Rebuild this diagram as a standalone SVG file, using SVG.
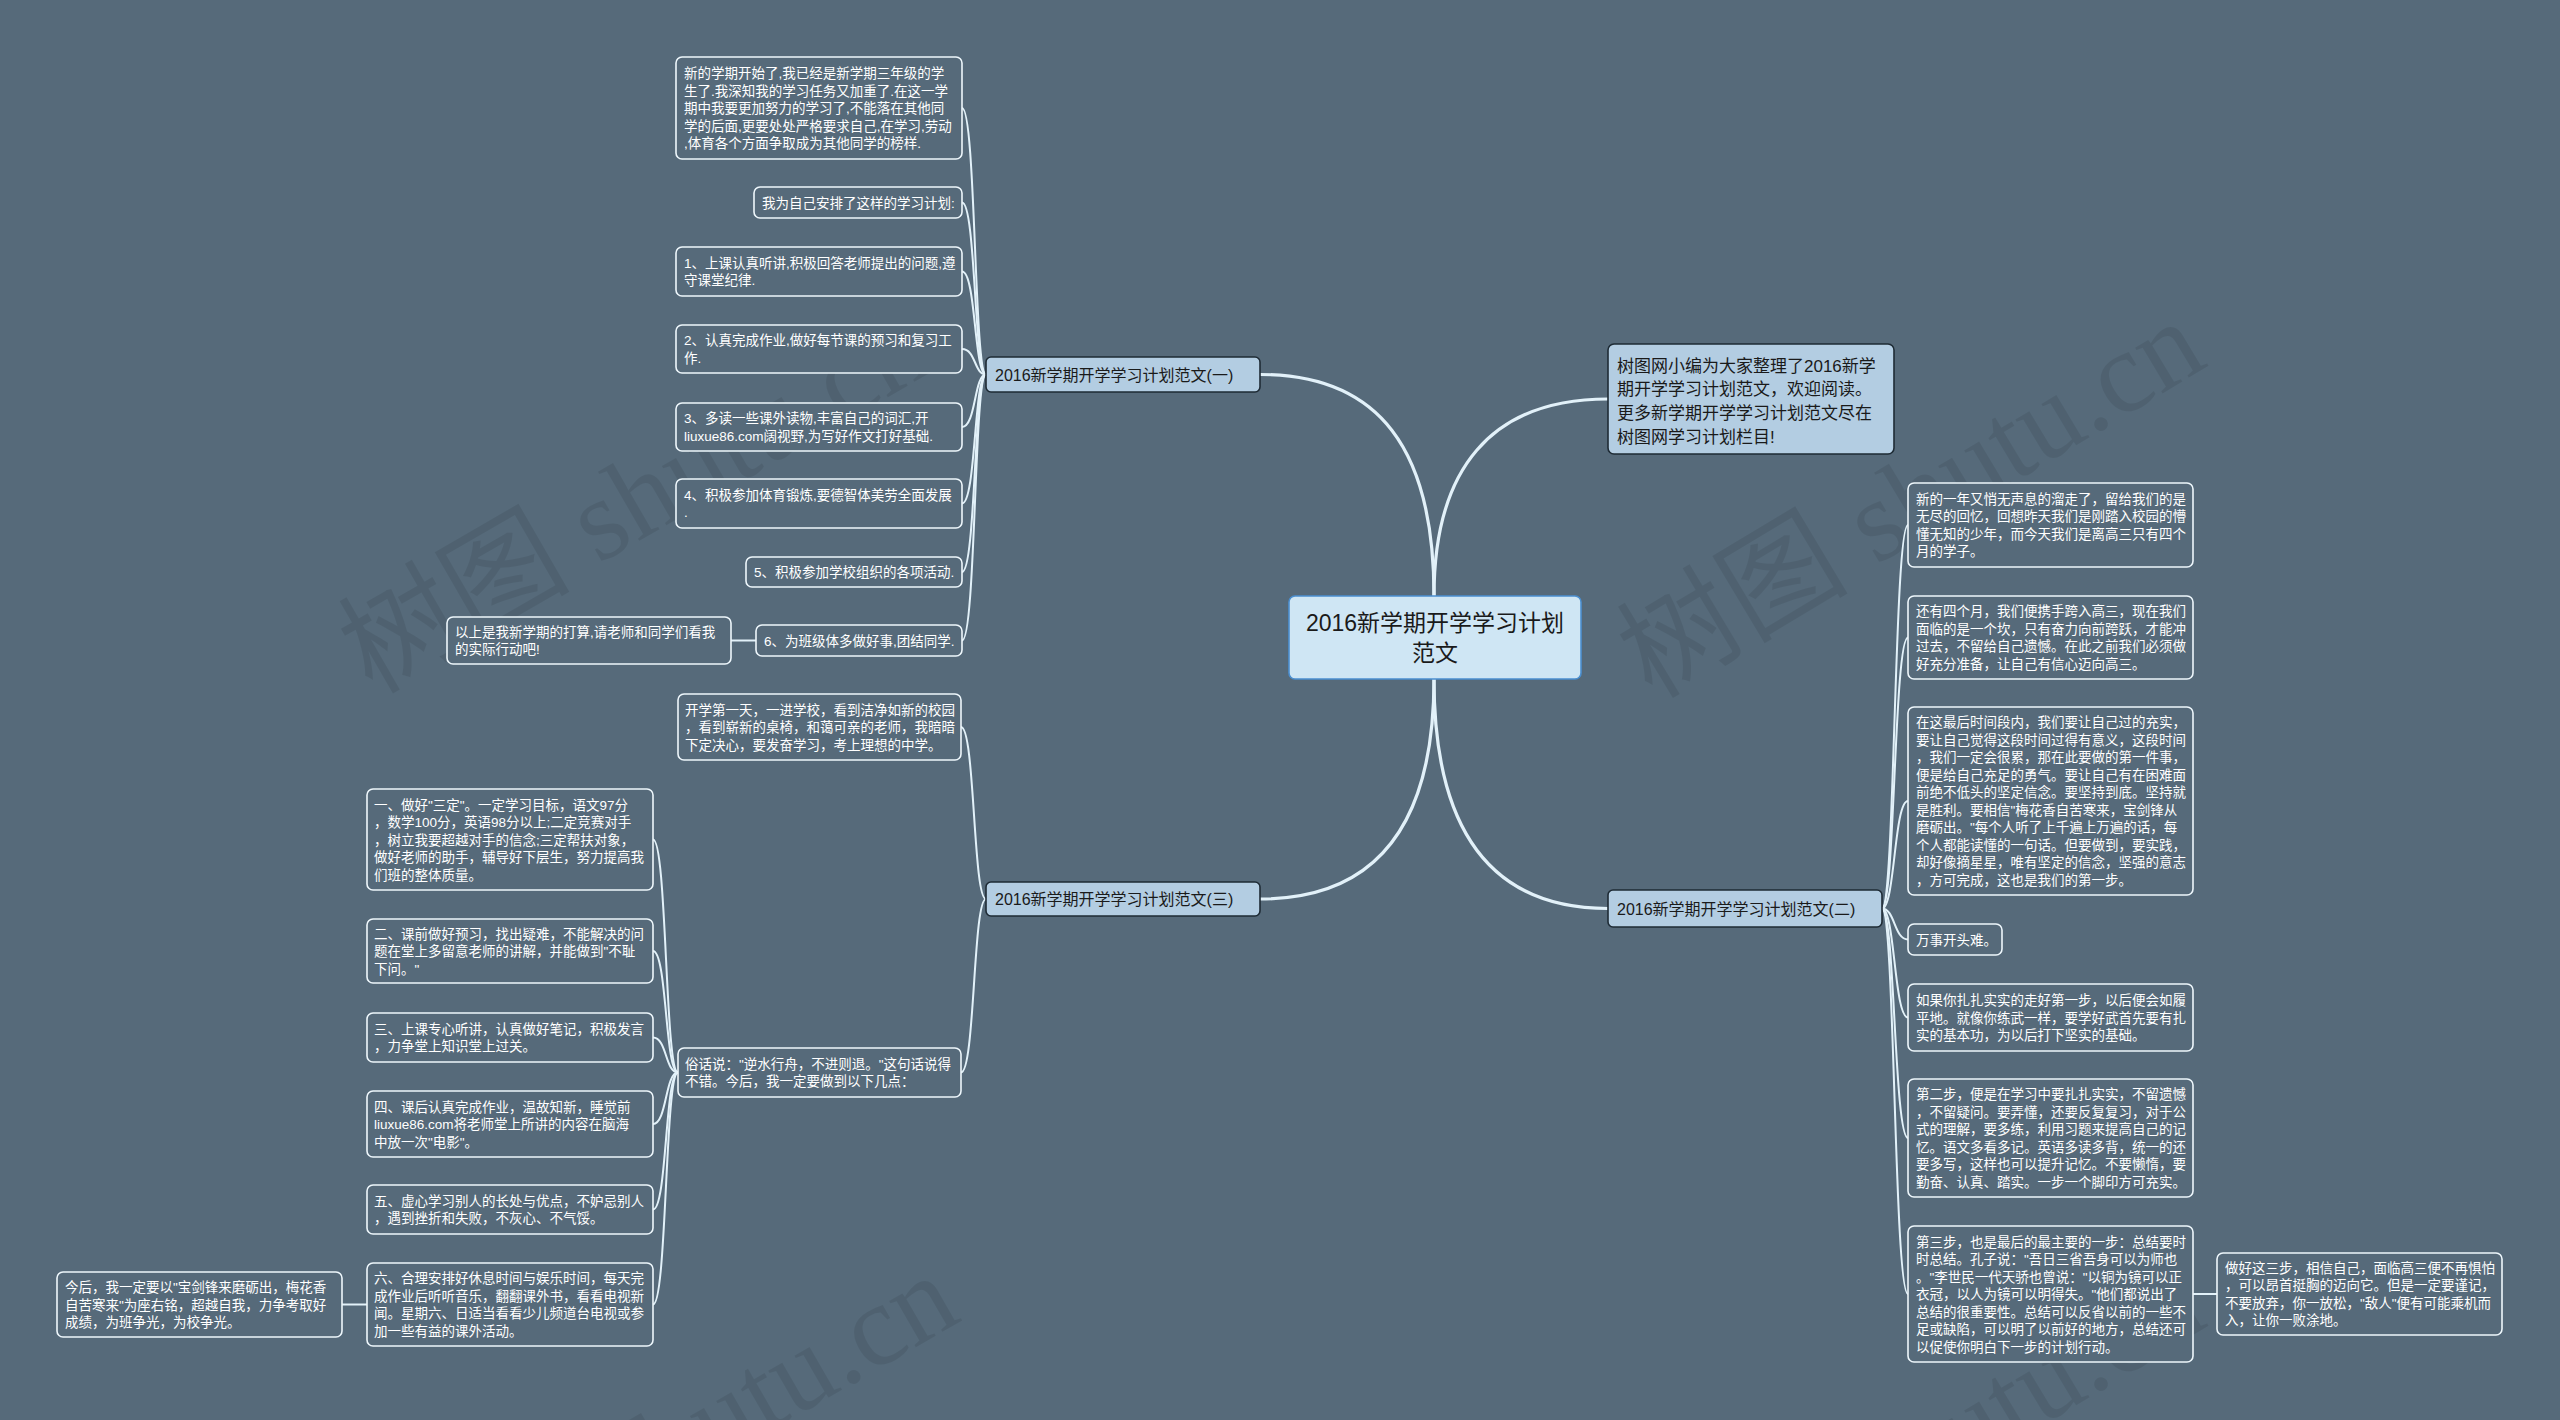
<svg xmlns="http://www.w3.org/2000/svg" width="2560" height="1420" viewBox="0 0 2560 1420">
<style>
.wm{font-family:"Liberation Serif","Noto Sans CJK SC",serif;font-size:116px;fill:#000;fill-opacity:0.08}
.sub rect{fill:#566a7a;stroke:#eef7fc;stroke-width:1.6}
.sub text{font-family:"Liberation Sans","Noto Sans CJK SC",sans-serif;font-size:13.5px;fill:#ffffff}
.l1 rect{fill:#b3cde2;stroke:#1e2b35;stroke-width:1.6}
.l1 text{font-family:"Liberation Sans","Noto Sans CJK SC",sans-serif;font-size:16px;fill:#1a1a1a}
.tr text{font-size:17px}
.root rect{fill:#cfe6f4;stroke:#4b8fd0;stroke-width:1.6}
.root text{font-family:"Liberation Sans","Noto Sans CJK SC",sans-serif;font-size:23px;fill:#1a1a1a;text-anchor:middle}
.cm{fill:none;stroke:#e2f1f9;stroke-width:3.2;stroke-linecap:round}
.cs{fill:none;stroke:#e2f1f9;stroke-width:2}
</style>
<rect x="0" y="0" width="2560" height="1420" fill="#566a7a"/>
<g id="watermarks">
<text class="wm" transform="translate(372,695) rotate(-30)">树图 shutu.cn</text>
<text class="wm" transform="translate(1652,700) rotate(-31)">树图 shutu.cn</text>
<text class="wm" transform="translate(400,1645) rotate(-30)">树图 shutu.cn</text>
<text class="wm" transform="translate(1652,1660) rotate(-31)">树图 shutu.cn</text>
</g>
<g id="connectors">
<path class="cm" d="M1434,596 C1434,450 1380,374.5 1260,374.5"/>
<path class="cm" d="M1434,596 C1434,470 1490,399 1608,399"/>
<path class="cm" d="M1434,679 C1434,820 1380,899 1260,899"/>
<path class="cm" d="M1434,679 C1434,830 1490,908.5 1608,908.5"/>
<path class="cs" d="M986,374.5 C974,374.5 976,108 962,108"/>
<path class="cs" d="M986,374.5 C974,374.5 976,202.5 962,202.5"/>
<path class="cs" d="M986,374.5 C974,374.5 976,271.5 962,271.5"/>
<path class="cs" d="M986,374.5 C974,374.5 976,349 962,349"/>
<path class="cs" d="M986,374.5 C974,374.5 976,427 962,427"/>
<path class="cs" d="M986,374.5 C974,374.5 976,503.5 962,503.5"/>
<path class="cs" d="M986,374.5 C974,374.5 976,572 962,572"/>
<path class="cs" d="M986,374.5 C974,374.5 976,640.5 962,640.5"/>
<path class="cs" d="M756,640.5 L731,640.5"/>
<path class="cs" d="M986,899 C973,899 975,727 961,727"/>
<path class="cs" d="M986,899 C973,899 975,1072.5 961,1072.5"/>
<path class="cs" d="M678,1072.5 C665,1072.5 667,839.5 653,839.5"/>
<path class="cs" d="M678,1072.5 C665,1072.5 667,951 653,951"/>
<path class="cs" d="M678,1072.5 C665,1072.5 667,1037.5 653,1037.5"/>
<path class="cs" d="M678,1072.5 C665,1072.5 667,1124 653,1124"/>
<path class="cs" d="M678,1072.5 C665,1072.5 667,1209.5 653,1209.5"/>
<path class="cs" d="M678,1072.5 C665,1072.5 667,1304.5 653,1304.5"/>
<path class="cs" d="M367,1304.5 L342,1304.5"/>
<path class="cs" d="M1882,908.5 C1895,908.5 1894,525 1908,525"/>
<path class="cs" d="M1882,908.5 C1895,908.5 1894,637.5 1908,637.5"/>
<path class="cs" d="M1882,908.5 C1895,908.5 1894,801 1908,801"/>
<path class="cs" d="M1882,908.5 C1895,908.5 1894,939.5 1908,939.5"/>
<path class="cs" d="M1882,908.5 C1895,908.5 1894,1017.5 1908,1017.5"/>
<path class="cs" d="M1882,908.5 C1895,908.5 1894,1138 1908,1138"/>
<path class="cs" d="M1882,908.5 C1895,908.5 1894,1294 1908,1294"/>
<path class="cs" d="M2193,1294 L2217,1294"/>
</g>
<g id="root" class="root">
<rect x="1289" y="596" width="292" height="83" rx="6"/>
<text><tspan x="1435" y="630.7">2016新学期开学学习计划</tspan><tspan x="1435" y="660.7">范文</tspan></text>
</g>
<g id="intro" class="l1 tr">
<rect x="1608" y="344" width="286" height="110" rx="6"/>
<text><tspan x="1617" y="371.5">树图网小编为大家整理了2016新学</tspan><tspan x="1617" y="395">期开学学习计划范文，欢迎阅读。</tspan><tspan x="1617" y="418.5">更多新学期开学学习计划范文尽在</tspan><tspan x="1617" y="442.5">树图网学习计划栏目!</tspan></text>
</g>
<g id="branch1" class="l1">
<rect x="986" y="357" width="274" height="35" rx="5"/>
<text x="995" y="380.5">2016新学期开学学习计划范文(一)</text>
</g>
<g id="branch3" class="l1">
<rect x="986" y="882" width="274" height="34" rx="5"/>
<text x="995" y="905">2016新学期开学学习计划范文(三)</text>
</g>
<g id="branch2" class="l1">
<rect x="1608" y="890" width="274" height="37" rx="5"/>
<text x="1617" y="914.5">2016新学期开学学习计划范文(二)</text>
</g>
<g id="a1" class="sub">
<rect x="676" y="57" width="286" height="102" rx="6"/>
<text><tspan x="684" y="78.2">新的学期开始了,我已经是新学期三年级的学</tspan><tspan x="684" y="95.7">生了.我深知我的学习任务又加重了.在这一学</tspan><tspan x="684" y="113.2">期中我要更加努力的学习了,不能落在其他同</tspan><tspan x="684" y="130.7">学的后面,更要处处严格要求自己,在学习,劳动</tspan><tspan x="684" y="148.2">,体育各个方面争取成为其他同学的榜样.</tspan></text>
</g>
<g id="a2" class="sub">
<rect x="754" y="187" width="208" height="31" rx="6"/>
<text x="762" y="207.7">我为自己安排了这样的学习计划:</text>
</g>
<g id="a3" class="sub">
<rect x="676" y="247" width="286" height="49" rx="6"/>
<text><tspan x="684" y="267.9">1、上课认真听讲,积极回答老师提出的问题,遵</tspan><tspan x="684" y="285.4">守课堂纪律.</tspan></text>
</g>
<g id="a4" class="sub">
<rect x="676" y="325" width="286" height="48" rx="6"/>
<text><tspan x="684" y="345.4">2、认真完成作业,做好每节课的预习和复习工</tspan><tspan x="684" y="362.9">作.</tspan></text>
</g>
<g id="a5" class="sub">
<rect x="676" y="403" width="286" height="48" rx="6"/>
<text><tspan x="684" y="423.4">3、多读一些课外读物,丰富自己的词汇,开</tspan><tspan x="684" y="440.9">liuxue86.com阔视野,为写好作文打好基础.</tspan></text>
</g>
<g id="a6" class="sub">
<rect x="676" y="479" width="286" height="49" rx="6"/>
<text><tspan x="684" y="499.9">4、积极参加体育锻炼,要德智体美劳全面发展</tspan><tspan x="684" y="517.4">.</tspan></text>
</g>
<g id="a7" class="sub">
<rect x="746" y="557" width="216" height="30" rx="6"/>
<text x="754" y="577.2">5、积极参加学校组织的各项活动.</text>
</g>
<g id="a8" class="sub">
<rect x="756" y="625" width="206" height="31" rx="6"/>
<text x="764" y="645.7">6、为班级体多做好事,团结同学.</text>
</g>
<g id="a9" class="sub">
<rect x="447" y="617" width="284" height="47" rx="6"/>
<text><tspan x="455" y="636.9">以上是我新学期的打算,请老师和同学们看我</tspan><tspan x="455" y="654.4">的实际行动吧!</tspan></text>
</g>
<g id="b1" class="sub">
<rect x="678" y="694" width="283" height="66" rx="6"/>
<text><tspan x="685" y="714.7">开学第一天，一进学校，看到洁净如新的校园</tspan><tspan x="685" y="732.2">，看到崭新的桌椅，和蔼可亲的老师，我暗暗</tspan><tspan x="685" y="749.7">下定决心，要发奋学习，考上理想的中学。</tspan></text>
</g>
<g id="b2" class="sub">
<rect x="678" y="1048" width="283" height="49" rx="6"/>
<text><tspan x="685" y="1068.9">俗话说："逆水行舟，不进则退。"这句话说得</tspan><tspan x="685" y="1086.4">不错。今后，我一定要做到以下几点：</tspan></text>
</g>
<g id="c1" class="sub">
<rect x="367" y="789" width="286" height="101" rx="6"/>
<text><tspan x="374" y="809.7">一、做好"三定"。一定学习目标，语文97分</tspan><tspan x="374" y="827.2">，数学100分，英语98分以上;二定竞赛对手</tspan><tspan x="374" y="844.7">，树立我要超越对手的信念;三定帮扶对象，</tspan><tspan x="374" y="862.2">做好老师的助手，辅导好下层生，努力提高我</tspan><tspan x="374" y="879.7">们班的整体质量。</tspan></text>
</g>
<g id="c2" class="sub">
<rect x="367" y="919" width="286" height="64" rx="6"/>
<text><tspan x="374" y="938.7">二、课前做好预习，找出疑难，不能解决的问</tspan><tspan x="374" y="956.2">题在堂上多留意老师的讲解，并能做到"不耻</tspan><tspan x="374" y="973.7">下问。"</tspan></text>
</g>
<g id="c3" class="sub">
<rect x="367" y="1013" width="286" height="49" rx="6"/>
<text><tspan x="374" y="1033.9">三、上课专心听讲，认真做好笔记，积极发言</tspan><tspan x="374" y="1051.4">，力争堂上知识堂上过关。</tspan></text>
</g>
<g id="c4" class="sub">
<rect x="367" y="1091" width="286" height="66" rx="6"/>
<text><tspan x="374" y="1111.7">四、课后认真完成作业，温故知新，睡觉前</tspan><tspan x="374" y="1129.2">liuxue86.com将老师堂上所讲的内容在脑海</tspan><tspan x="374" y="1146.7">中放一次"电影"。</tspan></text>
</g>
<g id="c5" class="sub">
<rect x="367" y="1185" width="286" height="49" rx="6"/>
<text><tspan x="374" y="1205.9">五、虚心学习别人的长处与优点，不妒忌别人</tspan><tspan x="374" y="1223.4">，遇到挫折和失败，不灰心、不气馁。</tspan></text>
</g>
<g id="c6" class="sub">
<rect x="367" y="1263" width="286" height="83" rx="6"/>
<text><tspan x="374" y="1283.4">六、合理安排好休息时间与娱乐时间，每天完</tspan><tspan x="374" y="1300.9">成作业后听听音乐，翻翻课外书，看看电视新</tspan><tspan x="374" y="1318.4">闻。星期六、日适当看看少儿频道台电视或参</tspan><tspan x="374" y="1335.9">加一些有益的课外活动。</tspan></text>
</g>
<g id="c7" class="sub">
<rect x="57" y="1272" width="285" height="65" rx="6"/>
<text><tspan x="65" y="1292.2">今后，我一定要以"宝剑锋来磨砺出，梅花香</tspan><tspan x="65" y="1309.7">自苦寒来"为座右铭，超越自我，力争考取好</tspan><tspan x="65" y="1327.2">成绩，为班争光，为校争光。</tspan></text>
</g>
<g id="d1" class="sub">
<rect x="1908" y="483" width="285" height="84" rx="6"/>
<text><tspan x="1916" y="503.9">新的一年又悄无声息的溜走了，留给我们的是</tspan><tspan x="1916" y="521.4">无尽的回忆，回想昨天我们是刚踏入校园的懵</tspan><tspan x="1916" y="538.9">懂无知的少年，而今天我们是离高三只有四个</tspan><tspan x="1916" y="556.4">月的学子。</tspan></text>
</g>
<g id="d2" class="sub">
<rect x="1908" y="596" width="285" height="83" rx="6"/>
<text><tspan x="1916" y="616.4">还有四个月，我们便携手跨入高三，现在我们</tspan><tspan x="1916" y="633.9">面临的是一个坎，只有奋力向前跨跃，才能冲</tspan><tspan x="1916" y="651.4">过去，不留给自己遗憾。在此之前我们必须做</tspan><tspan x="1916" y="668.9">好充分准备，让自己有信心迈向高三。</tspan></text>
</g>
<g id="d3" class="sub">
<rect x="1908" y="707" width="285" height="188" rx="6"/>
<text><tspan x="1916" y="727.4">在这最后时间段内，我们要让自己过的充实，</tspan><tspan x="1916" y="744.9">要让自己觉得这段时间过得有意义，这段时间</tspan><tspan x="1916" y="762.4">，我们一定会很累，那在此要做的第一件事，</tspan><tspan x="1916" y="779.9">便是给自己充足的勇气。要让自己有在困难面</tspan><tspan x="1916" y="797.4">前绝不低头的坚定信念。要坚持到底。坚持就</tspan><tspan x="1916" y="814.9">是胜利。要相信"梅花香自苦寒来，宝剑锋从</tspan><tspan x="1916" y="832.4">磨砺出。"每个人听了上千遍上万遍的话，每</tspan><tspan x="1916" y="849.9">个人都能读懂的一句话。但要做到，要实践，</tspan><tspan x="1916" y="867.4">却好像摘星星，唯有坚定的信念，坚强的意志</tspan><tspan x="1916" y="884.9">，方可完成，这也是我们的第一步。</tspan></text>
</g>
<g id="d4" class="sub">
<rect x="1908" y="924" width="94" height="31" rx="6"/>
<text x="1916" y="944.7">万事开头难。</text>
</g>
<g id="d5" class="sub">
<rect x="1908" y="984" width="285" height="67" rx="6"/>
<text><tspan x="1916" y="1005.2">如果你扎扎实实的走好第一步，以后便会如履</tspan><tspan x="1916" y="1022.7">平地。就像你练武一样，要学好武首先要有扎</tspan><tspan x="1916" y="1040.2">实的基本功，为以后打下坚实的基础。</tspan></text>
</g>
<g id="d6" class="sub">
<rect x="1908" y="1079" width="285" height="118" rx="6"/>
<text><tspan x="1916" y="1099.4">第二步，便是在学习中要扎扎实实，不留遗憾</tspan><tspan x="1916" y="1116.9">，不留疑问。要弄懂，还要反复复习，对于公</tspan><tspan x="1916" y="1134.4">式的理解，要多练，利用习题来提高自己的记</tspan><tspan x="1916" y="1151.9">忆。语文多看多记。英语多读多背，统一的还</tspan><tspan x="1916" y="1169.4">要多写，这样也可以提升记忆。不要懒惰，要</tspan><tspan x="1916" y="1186.9">勤奋、认真、踏实。一步一个脚印方可充实。</tspan></text>
</g>
<g id="d7" class="sub">
<rect x="1908" y="1226" width="285" height="136" rx="6"/>
<text><tspan x="1916" y="1246.7">第三步，也是最后的最主要的一步：总结要时</tspan><tspan x="1916" y="1264.2">时总结。孔子说："吾日三省吾身可以为师也</tspan><tspan x="1916" y="1281.7">。"李世民一代天骄也曾说："以铜为镜可以正</tspan><tspan x="1916" y="1299.2">衣冠，以人为镜可以明得失。"他们都说出了</tspan><tspan x="1916" y="1316.7">总结的很重要性。总结可以反省以前的一些不</tspan><tspan x="1916" y="1334.2">足或缺陷，可以明了以前好的地方，总结还可</tspan><tspan x="1916" y="1351.7">以促使你明白下一步的计划行动。</tspan></text>
</g>
<g id="d8" class="sub">
<rect x="2217" y="1253" width="285" height="82" rx="6"/>
<text><tspan x="2225" y="1272.9">做好这三步，相信自己，面临高三便不再惧怕</tspan><tspan x="2225" y="1290.4">，可以昂首挺胸的迈向它。但是一定要谨记，</tspan><tspan x="2225" y="1307.9">不要放弃，你一放松，"敌人"便有可能乘机而</tspan><tspan x="2225" y="1325.4">入，让你一败涂地。</tspan></text>
</g>
</svg>
